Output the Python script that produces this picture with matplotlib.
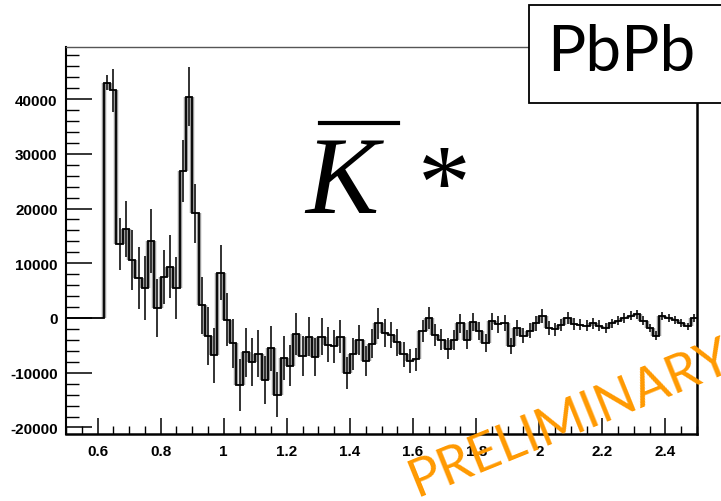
import numpy as np
import matplotlib
matplotlib.use('Agg')
import matplotlib.pyplot as plt
from matplotlib.ticker import MultipleLocator, FuncFormatter
from matplotlib.patches import Rectangle
from matplotlib.lines import Line2D

plt.rcParams['axes.unicode_minus'] = False

# invariant mass bins (GeV), 0.02 wide from 0.5 to 2.5
bin_lo = 0.5
bin_width = 0.02

# bin contents (first six bins are empty)
counts = [
    0, 0, 0, 0, 0, 0,
    43000, 41600, 13500, 16200, 10600, 7300, 5500, 14000, 1900, 7500,
    9400, 5500, 26800, 40400, 19100, 2300, -3300, -6800, 8300,
    -300, -4600, -12200, -6300, -8000, -6500, -11400, -5500, -14000, -7300,
    -8700, -2900, -6900, -3400, -7100, -3400, -4900, -5200, -3400, -10100,
    -6600, -4100, -7800, -4700, -1000,
    -2800, -3100, -4450, -6600, -7900, -7500, -2300, 0, -3100, -4000,
    -5600, -4000, -1000, -4000, -700, -2400, -4500, -600, -1100, -900,
    -5100, -1900, -3200, -2300, -1000, 350, -1800, -2100, -1300, 0,
    -1100, -1200, -1400, -1000, -1400, -1900, -1000, -500, 0, 400,
    700, -500, -1800, -3200, 300, 0, -400, -900, -1500, 0,
]

errors = [
    0, 0, 0, 0, 0, 0,
    1400, 3950, 4700, 5100, 5450, 5650, 5800, 5850, 5300, 4900,
    5700, 5650, 5650, 5400, 5400, 5250, 5300, 5000, 4950,
    4800, 4500, 4700, 4550, 4400, 4300, 4400, 4100, 4100, 4100,
    3800, 3800, 3650, 3500, 3500, 3350, 3200, 3000, 3050, 2950,
    2900, 2750, 2750, 2650, 2750,
    2550, 2450, 2450, 2300, 2200, 2100, 2000, 2000, 1950, 1900,
    1900, 1850, 1800, 1750, 1700, 1700, 1650, 1600, 1550, 1500,
    1500, 1450, 1400, 1350, 1300, 1300, 1250, 1200, 1150, 1100,
    1050, 1000, 1000, 950, 950, 900, 900, 850, 850, 800,
    800, 800, 750, 750, 750, 700, 700, 700, 650, 650,
]

x_ticks = [0.6, 0.8, 1.0, 1.2, 1.4, 1.6, 1.8, 2.0, 2.2, 2.4]

counts = np.array(counts, dtype=float)
errors = np.array(errors, dtype=float)
edges = bin_lo + bin_width * np.arange(len(counts) + 1)
centers = 0.5 * (edges[:-1] + edges[1:])

fig = plt.figure(figsize=(7.21, 5.02), dpi=100)
ax = fig.add_axes([66 / 721, 1 - 435 / 502, (697 - 66) / 721, (435 - 48) / 502])

# grey shading along the vertical steps
inner = edges[1:-1]
ax.vlines(inner, np.minimum(counts[:-1], counts[1:]), np.maximum(counts[:-1], counts[1:]),
          colors='#9a9a9a', lw=3.2, zorder=1)
ax.stairs(counts, edges, color='black', lw=1.3, baseline=None, zorder=3)
has_err = errors > 0
ax.errorbar(centers[has_err], counts[has_err], yerr=errors[has_err], fmt='none',
            ecolor='#222222', elinewidth=1.3, capsize=0, zorder=2)

ax.set_xlim(0.5, 2.5)
ax.set_ylim(-21190, 49500)
ax.set_xticks(x_ticks)
ax.xaxis.set_minor_locator(MultipleLocator(0.05))
ax.yaxis.set_major_locator(MultipleLocator(10000))
ax.yaxis.set_minor_locator(MultipleLocator(2000))
ax.xaxis.set_major_formatter(FuncFormatter(lambda v, p: f'{v:g}'))
ax.yaxis.set_major_formatter(FuncFormatter(lambda v, p: f'{int(round(v))}'))

ax.tick_params(axis='x', which='major', direction='in', length=11.5, width=1.1, pad=7)
ax.tick_params(axis='x', which='minor', direction='in', length=5.8, width=1.0)
ax.tick_params(axis='y', which='major', direction='in', length=19, width=1.1, pad=6)
ax.tick_params(axis='y', which='minor', direction='in', length=9.5, width=1.0)
for lab in ax.get_xticklabels() + ax.get_yticklabels():
    lab.set_fontfamily('Liberation Sans')
    lab.set_fontweight('bold')
    lab.set_fontsize(11)

ax.spines['bottom'].set_linewidth(1.8)
ax.spines['left'].set_linewidth(1.5)
ax.spines['right'].set_linewidth(1.8)
ax.spines['top'].set_linewidth(1.0)
ax.spines['top'].set_color('#555555')

# PbPb label box in the top right corner
fig.patches.append(Rectangle((529 / 721, 1 - 104 / 502), 0.4, 98 / 502,
                             transform=fig.transFigure, facecolor='white',
                             edgecolor='black', lw=1.3, zorder=5))
fig.text(621 / 721, 1 - 71 / 502, 'PbPb', family='Lato', fontsize=46,
         ha='center', va='baseline', zorder=6)

# K-bar star
fig.text(305 / 721, 1 - 213 / 502, 'K', family='Liberation Serif', style='italic',
         fontsize=79, ha='left', va='baseline')
fig.lines.append(Line2D([320 / 721, 398 / 721], [1 - 124 / 502, 1 - 124 / 502],
                        transform=fig.transFigure, color='black', lw=3))
fig.text(418 / 721, 1 - 218 / 502, '*', family='Liberation Serif',
         fontsize=76, ha='left', va='baseline')

fig.text(416 / 721, 1 - 497 / 502, 'PRELIMINARY', family='Lato', fontsize=38,
         color='#ff9900', rotation=22, rotation_mode='anchor',
         ha='left', va='baseline', zorder=7)

fig.savefig('out.png', dpi=100)
